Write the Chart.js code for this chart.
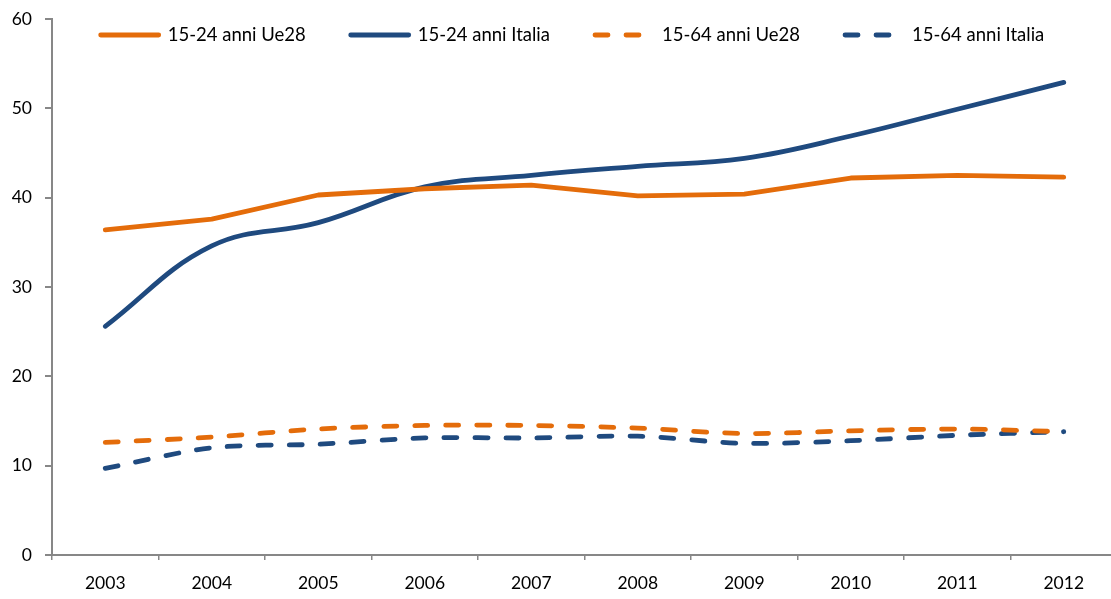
<!DOCTYPE html>
<html>
<head>
<meta charset="utf-8">
<script src="https://cdn.jsdelivr.net/npm/chart.js@4.4.1/dist/chart.umd.min.js"></script>
<style>
  html, body { margin: 0; padding: 0; background: #ffffff; overflow: hidden; width: 1111px; height: 599px; }
  #c { display: block; }
</style>
</head>
<body>
<canvas id="c" width="1117" height="599"></canvas>
<script>
// Anni
const anni = ['2003', '2004', '2005', '2006', '2007', '2008', '2009', '2010', '2011', '2012'];

// Serie (valori percentuali)
const giovaniUe28   = [36.4, 37.6, 40.3, 41.0, 41.4, 40.2, 40.4, 42.2, 42.5, 42.3];
const giovaniItalia = [25.6, 34.6, 37.2, 41.2, 42.5, 43.5, 44.4, 46.9, 49.9, 52.9];
const totaleUe28    = [12.6, 13.2, 14.1, 14.5, 14.5, 14.2, 13.6, 13.9, 14.1, 13.8];
const totaleItalia  = [9.7, 12.0, 12.4, 13.1, 13.1, 13.3, 12.5, 12.8, 13.4, 13.8];

// Etichette di serie e asse
const etichette = ['15-24 anni Ue28', '15-24 anni Italia', '15-64 anni Ue28', '15-64 anni Italia'];
const yMin = 0, yMax = 60, yPasso = 10;

const ARANCIO = '#E46C0A';
const BLU = '#1F4A7F';
const GRIGIO = '#878787';
const FONT = 'Lato, "Open Sans", sans-serif';
const TRATTO = [13, 18];

// Legenda su una riga, disegnata sopra l'area del grafico
const legendaLinee = {
  id: 'legendaLinee',
  afterDraw(chart) {
    const ctx = chart.ctx;
    const area = chart.chartArea;
    ctx.save();
    ctx.font = '18.5px ' + FONT;
    const LINEA = 62, SPAZIO = 7, SEP = 43;
    const voci = chart.data.datasets.map(ds => ({ ds, w: ctx.measureText(ds.label).width }));
    const totale = voci.reduce((s, v) => s + LINEA + SPAZIO + v.w, 0) + SEP * (voci.length - 1);
    let x = (area.left + area.right) / 2 - 13 - totale / 2;
    const y = 35;
    voci.forEach(v => {
      const ds = v.ds;
      ctx.beginPath();
      ctx.strokeStyle = ds.borderColor;
      ctx.lineWidth = ds.borderWidth;
      ctx.lineCap = 'round';
      ctx.setLineDash(ds.borderDash || []);
      ctx.moveTo(x + 2, y);
      ctx.lineTo(x + LINEA - 2, y);
      ctx.stroke();
      ctx.setLineDash([]);
      ctx.fillStyle = '#000000';
      ctx.textBaseline = 'middle';
      ctx.textAlign = 'left';
      ctx.fillText(ds.label, x + LINEA + SPAZIO, y);
      x += LINEA + SPAZIO + v.w + SEP;
    });
    ctx.restore();
  }
};

function serie(label, data, colore, tratteggio, tensione) {
  return {
    label,
    data,
    borderColor: colore,
    backgroundColor: colore,
    borderWidth: 4.8,
    borderDash: tratteggio,
    borderCapStyle: 'round',
    borderJoinStyle: 'round',
    tension: tensione,
    pointRadius: 0,
    pointHoverRadius: 0,
    fill: false
  };
}

new Chart(document.getElementById('c'), {
  type: 'line',
  data: {
    labels: anni,
    datasets: [
      serie(etichette[0], giovaniUe28, ARANCIO, [], 0),
      serie(etichette[1], giovaniItalia, BLU, [], 0.4),
      serie(etichette[2], totaleUe28, ARANCIO, TRATTO, 0.3),
      serie(etichette[3], totaleItalia, BLU, TRATTO, 0.3)
    ]
  },
  options: {
    responsive: false,
    devicePixelRatio: 1,
    animation: false,
    layout: { padding: { top: 19, right: 0, left: 0, bottom: 0 } },
    plugins: {
      legend: { display: false },
      tooltip: { enabled: false }
    },
    scales: {
      x: {
        offset: true,
        grid: {
          offset: true,
          drawOnChartArea: false,
          drawTicks: true,
          tickLength: 5,
          color: GRIGIO,
          lineWidth: 1.5
        },
        border: { color: GRIGIO, width: 2 },
        ticks: {
          font: { family: FONT, size: 17.5 },
          color: '#000000',
          padding: 13,
          maxRotation: 0,
          autoSkip: false
        },
        afterFit(scale) { scale.height = 44; }
      },
      y: {
        min: yMin,
        max: yMax,
        grid: {
          drawOnChartArea: false,
          drawTicks: true,
          tickLength: 7,
          color: GRIGIO,
          lineWidth: 2
        },
        border: { color: GRIGIO, width: 2 },
        ticks: {
          stepSize: yPasso,
          font: { family: FONT, size: 17.5, lineHeight: 0.6 },
          color: '#000000',
          padding: 13
        },
        afterFit(scale) { scale.width = 52; }
      }
    }
  },
  plugins: [legendaLinee]
});
</script>
</body>
</html>
